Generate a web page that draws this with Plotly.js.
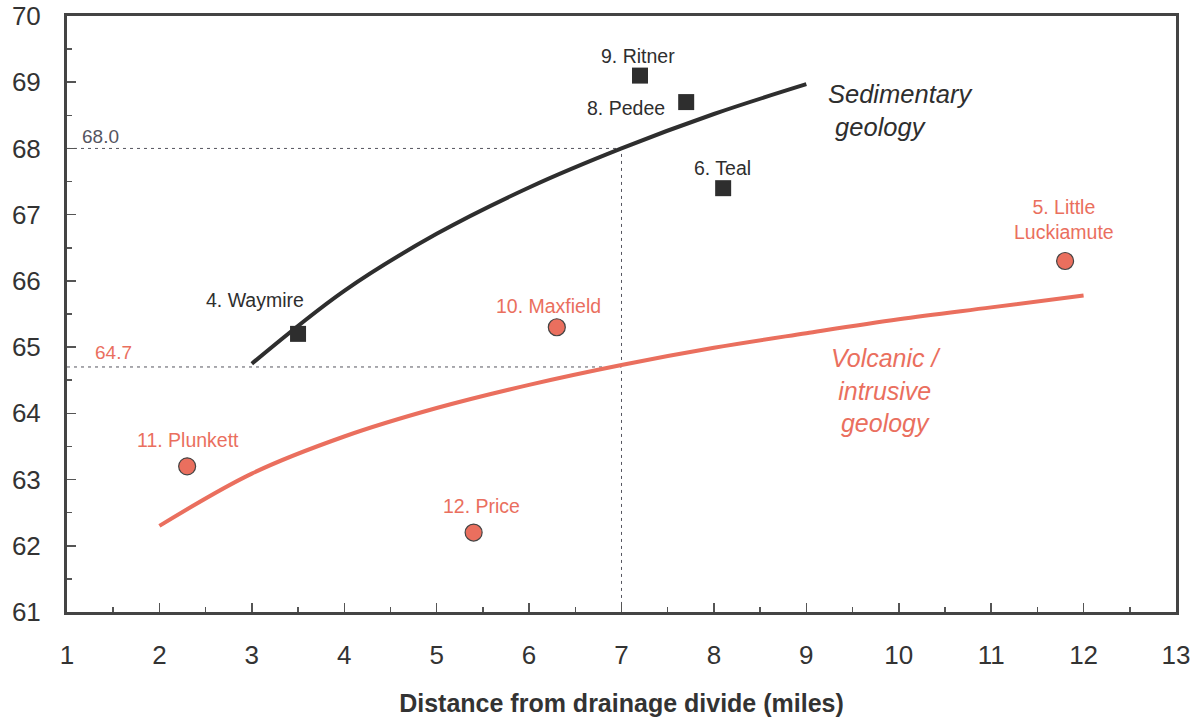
<!DOCTYPE html>
<html><head><meta charset="utf-8">
<script src="https://cdn.plot.ly/plotly-3.0.1.min.js"></script>
<style>html,body{margin:0;padding:0;background:#fff}#chart{width:1204px;height:723px}</style>
</head><body><div id="chart"></div>
<script>
// Sedimentary sites (squares)
const sedNames = ["4. Waymire", "9. Ritner", "8. Pedee", "6. Teal"];
const sedX = [3.5, 7.2, 7.7, 8.1];
const sedY = [65.2, 69.1, 68.7, 67.4];
// Volcanic / intrusive sites (circles)
const volNames = ["11. Plunkett", "12. Price", "10. Maxfield", "5. Little<br>Luckiamute"];
const volX = [2.3, 5.4, 6.3, 11.8];
const volY = [63.2, 62.2, 65.3, 66.3];
// Trend curves
const sedCurveX = [3, 4, 5, 6, 7, 8, 9];
const sedCurveY = [64.75, 65.85, 66.71, 67.41, 68.0, 68.52, 68.97];
const volCurveX = [2, 3, 4, 5, 6, 7, 8, 9, 10, 11, 12];
const volCurveY = [62.3, 63.09, 63.65, 64.08, 64.43, 64.73, 64.99, 65.21, 65.42, 65.6, 65.78];
// Reference values
const refX = 7;
const refSed = 68.0;
const refVol = 64.7;
const xTicks = [1,2,3,4,5,6,7,8,9,10,11,12,13];
const yTicks = [61,62,63,64,65,66,67,68,69,70];

const DARK = "#2e2e2e", RED = "#ea6f5e", GRAY = "#55555f";
const FONT = "Arial, 'Liberation Sans', sans-serif";

const traces = [
  {x:[1, refX, refX], y:[refSed, refSed, 61], mode:"lines", line:{color:GRAY, width:1, dash:"3px,4px"}, hoverinfo:"skip"},
  {x:[1, refX], y:[refVol, refVol], mode:"lines", line:{color:GRAY, width:1, dash:"3px,4px"}, hoverinfo:"skip"},
  {x:sedCurveX, y:sedCurveY, mode:"lines", line:{color:DARK, width:4, shape:"spline"}, hoverinfo:"skip"},
  {x:volCurveX, y:volCurveY, mode:"lines", line:{color:RED, width:4, shape:"spline"}, hoverinfo:"skip"},
  {x:sedX, y:sedY, mode:"markers", marker:{symbol:"square", size:16, color:DARK}, text:sedNames},
  {x:volX, y:volY, mode:"markers", marker:{symbol:"circle", size:17, color:RED, line:{color:"#444", width:1.2}}, text:volNames}
];

const labelPos = {
  "4. Waymire":[3.03, 65.71], "9. Ritner":[7.18, 69.4], "8. Pedee":[7.05, 68.61], "6. Teal":[8.09, 67.7],
  "11. Plunkett":[2.31, 63.6], "12. Price":[5.49, 62.6], "10. Maxfield":[6.21, 65.62], "5. Little<br>Luckiamute":[11.79, 66.92]
};
const annotations = [];
sedNames.forEach(n => annotations.push({x:labelPos[n][0], y:labelPos[n][1], text:n, showarrow:false, font:{family:FONT, size:19.5, color:DARK}}));
volNames.forEach(n => annotations.push({x:labelPos[n][0], y:labelPos[n][1], text:n, showarrow:false, font:{family:FONT, size:19.5, color:RED}}));
annotations.push({x:9.21, y:68.58, xanchor:"left", align:"left", text:"<i>Sedimentary</i><br><i> geology</i>", showarrow:false, font:{family:FONT, size:25.5, color:DARK}});
annotations.push({x:9.87, y:64.35, align:"center", text:"<i>Volcanic /</i><br><i>intrusive</i><br><i>geology</i>", showarrow:false, font:{family:FONT, size:25, color:RED}});
annotations.push({x:1.36, y:68.18, text:refSed.toFixed(1), showarrow:false, font:{family:FONT, size:19, color:GRAY}});
annotations.push({x:1.5, y:64.92, text:refVol.toFixed(1), showarrow:false, font:{family:FONT, size:19, color:RED}});

const layout = {
  width:1204, height:723,
  margin:{l:67, r:28, t:16, b:111},
  paper_bgcolor:"#fff", plot_bgcolor:"#fff",
  showlegend:false,
  font:{family:FONT, color:"#333"},
  xaxis:{range:[1,13], tickvals:xTicks, ticktext:xTicks.map(String), showgrid:false, zeroline:false,
    showline:true, linecolor:"#444", linewidth:3, mirror:true,
    ticks:"inside", ticklen:9, tickwidth:1.5, tickcolor:"#555",
    minor:{dtick:0.5, ticks:"inside", ticklen:5, tickwidth:1.5, tickcolor:"#555", showgrid:false},
    tickfont:{family:FONT, size:26, color:"#333"}, ticklabelstandoff:18,
    title:{text:"<b>Distance from drainage divide (miles)</b>", font:{family:FONT, size:25, color:"#333"}, standoff:26}},
  yaxis:{range:[61,70], tickvals:yTicks, ticktext:yTicks.map(String), showgrid:false, zeroline:false,
    showline:true, linecolor:"#444", linewidth:3, mirror:true,
    ticks:"inside", ticklen:9, tickwidth:1.5, tickcolor:"#555",
    minor:{dtick:0.5, ticks:"inside", ticklen:5, tickwidth:1.5, tickcolor:"#555", showgrid:false},
    tickfont:{family:FONT, size:26, color:"#333"}, ticklabelstandoff:18},
  annotations:annotations
};
Plotly.newPlot("chart", traces, layout, {staticPlot:true});
</script></body></html>
